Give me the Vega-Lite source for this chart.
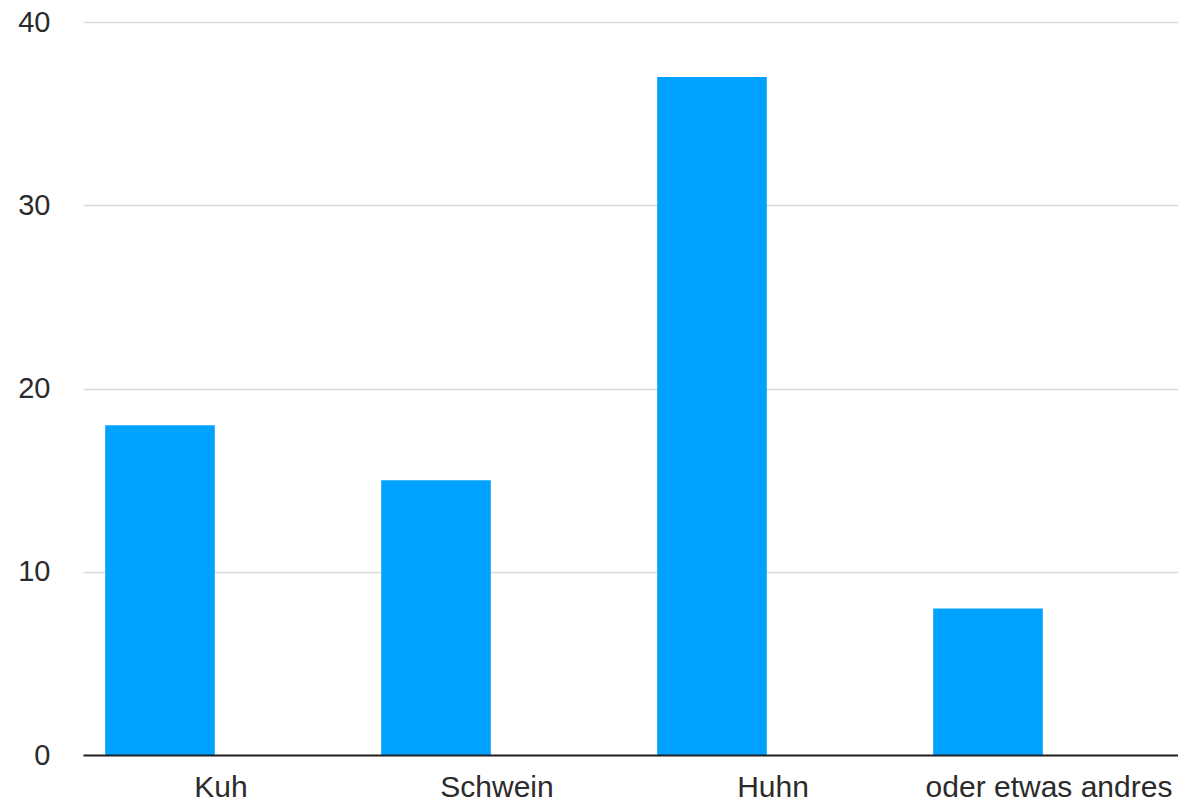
{
  "$schema": "https://vega.github.io/schema/vega-lite/v6.json",
  "width": 1096,
  "height": 733,
  "autosize": {"type": "none"},
  "padding": {"left": 82, "top": 22, "right": 0, "bottom": 51},
  "background": "white",
  "config": {
    "view": {"stroke": null},
    "font": "Liberation Sans",
    "axis": {"labelFont": "Liberation Sans", "labelColor": "#2b2b2b", "labelFontSize": 30, "labelLimit": 0}
  },
  "data": {
    "values": [
      {"Tier": "Kuh", "Anzahl": 18},
      {"Tier": "Schwein", "Anzahl": 15},
      {"Tier": "Huhn", "Anzahl": 37},
      {"Tier": "oder etwas andres", "Anzahl": 8}
    ]
  },
  "mark": {"type": "bar", "color": "#00A2FF", "width": {"band": 0.397}, "xOffset": -61},
  "encoding": {
    "x": {
      "field": "Tier",
      "type": "nominal",
      "sort": null,
      "scale": {"range": [1, 1105], "paddingInner": 0, "paddingOuter": 0},
      "axis": {
        "title": null,
        "labelAngle": 0,
        "ticks": false,
        "grid": false,
        "domain": true,
        "domainColor": "#222222",
        "domainWidth": 1.8,
        "labelPadding": 17,
        "labelFontSize": 30,
        "zindex": 1
      }
    },
    "y": {
      "field": "Anzahl",
      "type": "quantitative",
      "scale": {"domain": [0, 40], "nice": false},
      "axis": {
        "title": null,
        "values": [0, 10, 20, 30, 40],
        "domain": false,
        "ticks": false,
        "grid": true,
        "gridColor": "#d9d9d9",
        "gridWidth": 1.5,
        "labelFontSize": 29,
        "labelPadding": 32,
        "labelBaseline": "middle"
      }
    }
  }
}
